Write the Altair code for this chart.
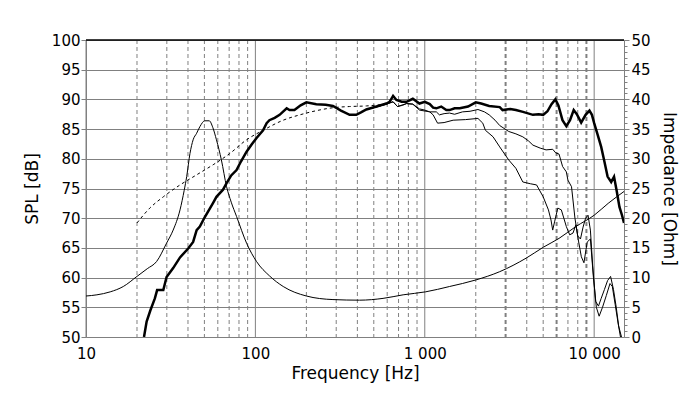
import altair as alt
import pandas as pd

# ---------------- data ----------------
# On-axis SPL (thick)
spl0_f = [22, 22.8, 24.0, 25.5, 26.3, 28.6, 29.9, 32.7, 35.9, 40.1, 42.9, 45, 47, 50.3, 56.3, 58.9,
          64.4, 67.6, 72, 77.4, 82, 88.7, 95, 101.6, 111, 116.5, 121, 130, 139, 153, 159, 170, 185,
          200, 229, 260, 287, 320, 360, 394, 420, 452, 519, 593, 620, 650, 680, 730, 780, 850, 930,
          1000, 1070, 1120, 1170, 1250, 1340, 1400, 1500, 1610, 1800, 2000, 2150, 2400, 2770, 2880,
          3200, 3450, 3800, 4350, 4700, 5000, 5300, 5600, 5900, 6150, 6500, 6850, 7200, 7570, 7900,
          8380, 8900, 9380, 9700, 10000, 10500, 11000, 11500, 12000, 12600, 13100, 13600, 14100,
          14600, 15000]
spl0_db = [50.0, 52.6, 54.5, 56.5, 57.9, 57.9, 60.1, 61.6, 63.4, 64.9, 66.0, 68.0, 68.6, 70.2, 72.6,
           73.6, 74.8, 75.9, 77.2, 78.1, 79.5, 81.2, 82.4, 83.5, 84.8, 86.0, 86.5, 86.9, 87.4, 88.5,
           88.2, 88.2, 89.0, 89.5, 89.2, 89.1, 88.9, 88.1, 87.4, 87.4, 87.8, 88.3, 88.8, 89.3, 89.6,
           90.6, 89.9, 89.6, 89.6, 90.1, 89.3, 89.6, 89.2, 88.6, 88.5, 88.8, 88.2, 88.2, 88.5, 88.5,
           88.8, 89.5, 89.3, 88.9, 88.7, 88.2, 88.4, 88.2, 87.9, 87.4, 87.5, 87.4, 88.0, 89.2, 90.0,
           89.0, 86.5, 85.5, 86.5, 88.2, 87.5, 86.1, 87.4, 88.1, 87.4, 86.0, 84.0, 82.0, 79.5, 77.0,
           76.1, 77.0, 74.5, 71.9, 70.5, 69.2]

# Off-axis SPL A (thin, upper)
spl30_f = [450, 500, 560, 593, 650, 690, 740, 780, 850, 930, 1000, 1070, 1170, 1220, 1300, 1400, 1500,
           1670, 1850, 2060, 2250, 2400, 2600, 2770, 3130, 3450, 3790, 4100, 4350, 4800, 5200, 5690,
           5930, 6200, 6510, 6850, 7000, 7350, 7700, 8000, 8300, 8600, 8900, 9200, 9500, 9800, 10200,
           10600, 11000, 11500, 12000, 12500, 13000, 13500, 14000, 14300]
spl30_db = [88.3, 88.6, 89.0, 89.2, 89.6, 88.8, 89.0, 89.3, 89.2, 88.4, 88.2, 87.9, 87.9, 87.4, 87.6,
            87.7, 87.5, 87.9, 88.0, 88.3, 87.9, 87.4, 86.5, 85.6, 84.6, 84.2, 83.7, 83.0, 82.3, 81.8,
            81.5, 81.6, 81.0, 80.8, 78.7, 77.8, 76.4, 75.3, 70.0, 67.0, 66.5, 68.5, 70.0, 70.5, 68.0,
            62.0, 56.0, 55.2, 56.5, 58.0, 59.5, 60.2, 58.0, 55.0, 51.5, 50.0]

# Off-axis SPL B (thin, lower)
spl60_f = [450, 500, 560, 593, 650, 690, 780, 850, 930, 1070, 1120, 1190, 1300, 1470, 1740, 2060, 2200,
           2280, 2530, 2770, 3130, 3450, 3790, 4200, 4570, 5000, 5370, 5560, 5690, 5850, 6100, 6400,
           6850, 7170, 7500, 7800, 8100, 8400, 8700, 9100, 9500, 9900, 10300, 10700, 11200, 11800,
           12400, 12800, 13300, 13900, 14500]
spl60_db = [88.3, 88.6, 89.0, 89.2, 89.6, 88.8, 89.3, 89.2, 88.2, 87.9, 87.4, 86.0, 86.1, 86.5, 86.6,
            86.8, 86.0, 84.8, 83.7, 82.0, 79.8, 78.4, 76.1, 75.8, 75.6, 73.6, 71.4, 69.7, 68.0, 69.5,
            71.7, 71.4, 68.6, 67.2, 67.5, 68.9, 66.0, 63.5, 62.5, 66.0, 66.5, 60.0, 55.0, 53.5, 55.0,
            57.0, 59.0, 58.5, 55.5, 52.0, 50.0]

# Simulated / modelled SPL (dashed)
sim_f = [20, 23.8, 28.6, 35.9, 45, 56.3, 70.7, 88.7, 111, 146, 183, 229, 287, 360, 452, 545]
sim_db = [69.2, 71.7, 73.6, 75.6, 77.3, 79.0, 80.9, 83.2, 84.8, 86.5, 87.4, 88.1, 88.6, 88.8, 88.9, 89.1]

# Impedance (right axis, Ohm)
imp_f = [10, 11.6, 13.9, 16.6, 20, 23, 26.1, 29.9, 32.7, 35.9, 38, 39.3, 41.1, 42.9, 45, 47, 50.3,
         53.4, 56, 58.9, 63, 67.6, 72, 77.4, 88.7, 101.6, 121, 146, 200, 287, 412, 567, 745, 1010,
         1400, 2000, 2770, 3980, 5000, 6200, 7800, 10000, 12100, 15000]
imp_ohm = [6.9, 7.1, 7.6, 8.5, 10.2, 11.5, 12.7, 15.8, 18.0, 21.4, 24.7, 27.0, 30.9, 33.2, 34.3,
           35.4, 36.4, 36.4, 35.3, 33.2, 29.8, 25.3, 22.7, 20.3, 15.8, 12.7, 10.3, 8.5, 6.9, 6.3, 6.2,
           6.5, 7.1, 7.6, 8.5, 9.6, 11.0, 13.3, 15.1, 16.6, 18.6, 20.5, 22.5, 24.5]

# Grid / ticks
x_major = [10, 100, 1000, 10000]
x_minor = [20, 30, 40, 50, 60, 70, 80, 90, 200, 300, 400, 500, 600, 700, 800, 900,
           2000, 4000, 5000, 7000, 8000]
x_minor_bold = [3000, 6000, 9000]
spl_ticks = list(range(50, 101, 5))
ohm_ticks = list(range(0, 51))

FONT = "DejaVu Sans"
GRID = "#808080"

x_enc = alt.X(
    "f:Q",
    scale=alt.Scale(type="log", domain=[10, 15000], nice=False),
    axis=alt.Axis(values=x_major, labelExpr="replace(format(datum.value, ','), ',', ' ')",
                  title="Frequency [Hz]", grid=False, ticks=False, labelPadding=9, titlePadding=4,
                  domainColor=GRID, labelFlush=False),
)
y_spl = alt.Y(
    "v:Q",
    scale=alt.Scale(domain=[50, 100], nice=False, zero=False),
    axis=alt.Axis(values=spl_ticks, title="SPL [dB]", grid=True, gridColor=GRID, gridWidth=1,
                  tickSize=5, tickColor=GRID, labelPadding=1, titlePadding=10, domainColor=GRID),
)


def line_df(f, v):
    return pd.DataFrame({"f": f, "v": v})


def grid_rules(freqs, dash, width):
    return alt.Chart(pd.DataFrame({"f": freqs})).mark_rule(
        color=GRID, strokeDash=dash, strokeWidth=width
    ).encode(x=x_enc)


grid_major = grid_rules(x_major, [1, 0], 1)
grid_minor = grid_rules(x_minor, [4, 3], 1)
grid_minor_b = grid_rules(x_minor_bold, [4, 3], 2)

top_border = alt.Chart(pd.DataFrame({"v": [100]})).mark_rule(color="black", strokeWidth=1.5).encode(
    y=y_spl
)

sim = alt.Chart(line_df(sim_f, sim_db)).mark_line(
    color="black", strokeWidth=1, strokeDash=[3, 3], clip=True, interpolate="monotone"
).encode(x=x_enc, y=y_spl)
off60 = alt.Chart(line_df(spl60_f, spl60_db)).mark_line(color="black", strokeWidth=1, clip=True).encode(
    x=x_enc, y=y_spl
)
off30 = alt.Chart(line_df(spl30_f, spl30_db)).mark_line(color="black", strokeWidth=1, clip=True).encode(
    x=x_enc, y=y_spl
)
onax = alt.Chart(line_df(spl0_f, spl0_db)).mark_line(color="black", strokeWidth=2.5, clip=True).encode(
    x=x_enc, y=y_spl
)

spl_group = alt.layer(grid_minor, grid_minor_b, grid_major, top_border, sim, off60, off30, onax)

imp = alt.Chart(pd.DataFrame({"f": imp_f, "ohm": imp_ohm})).mark_line(
    color="black", strokeWidth=1, clip=True, interpolate="monotone"
).encode(
    x=x_enc,
    y=alt.Y(
        "ohm:Q",
        scale=alt.Scale(domain=[0, 50], nice=False, zero=False),
        axis=alt.Axis(
            orient="right", values=ohm_ticks, title="Impedance [Ohm]", grid=False,
            labelExpr="datum.value % 5 === 0 ? datum.label : ''", labelOverlap=False,
            tickSize={"condition": {"test": "datum.value % 5 === 0", "value": 5}, "value": 3},
            tickColor=GRID, labelPadding=2, titlePadding=9, domainColor=GRID,
        ),
    ),
)

chart = (
    alt.layer(spl_group, imp)
    .resolve_scale(y="independent")
    .properties(
        width=538,
        height=297,
        padding={"left": 78, "top": 32, "right": 68, "bottom": 54},
        autosize=alt.AutoSizeParams(type="none"),
        background="white",
    )
    .configure_view(stroke=None)
    .configure_axis(
        labelFont=FONT, labelFontSize=15, labelColor="black",
        titleFont=FONT, titleFontSize=17, titleFontWeight="normal", titleColor="black",
    )
)

chart.save("out.html", embed_options={"renderer": "svg", "actions": False})
